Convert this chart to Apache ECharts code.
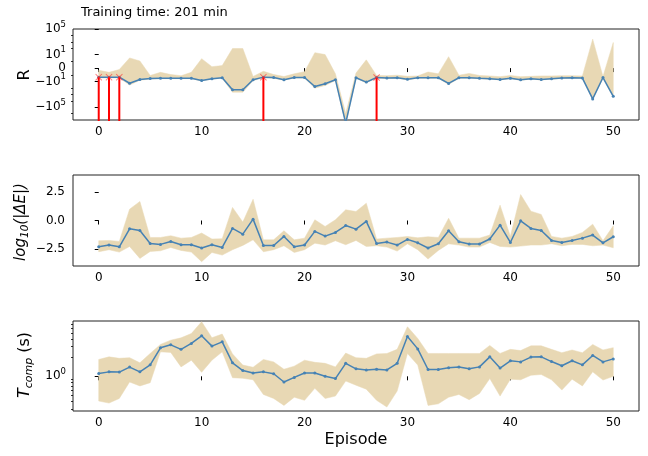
<!DOCTYPE html>
<html>
<head>
<meta charset="utf-8">
<script src="https://cdn.jsdelivr.net/npm/echarts@6/dist/echarts.min.js"></script>
<style>
  html, body { margin: 0; padding: 0; background: #fff; }
  #chart { width: 648px; height: 456px; }
</style>
</head>
<body>
<div id="chart"></div>
<script>
// episodes on x
const episodes = [0, 1, 2, 3, 4, 5, 6, 7, 8, 9, 10, 11, 12, 13, 14, 15, 16, 17, 18, 19, 20,
  21, 22, 23, 24, 25, 26, 27, 28, 29, 30, 31, 32, 33, 34, 35, 36, 37, 38, 39, 40,
  41, 42, 43, 44, 45, 46, 47, 48, 49, 50];

// reward R (symlog panel)
const rewardMean = [-2, -2, -2, -18, -4.7, -3.3, -3, -3, -3, -3, -6.7, -3.5, -2.5, -190, -190, -5, -2, -2.3, -5, -2.3,
  -2.3, -57, -22, -5, -3e7, -2.5, -12, -2.3, -2.8, -2.5, -4.3, -2.5, -2.5, -2.5, -19, -2.5, -2.5, -3, -3.5, -4.5,
  -3, -5, -3.5, -4.5, -3.5, -2.8, -2.5, -2.8, -5000, -2.3, -2000];
const rewardHigh = [-0.3, -0.6, -0.2, 3, 1, -1.1, -0.6, -0.9, -1.2, -0.6, 2.3, 0.2, 0.35, 90, 90, -1.6, -0.45, -0.9, -1.6, -0.8,
  -0.5, 20, 10, -0.8, -1e6, -0.7, 1.5, -1.1, -1.2, -1.0, -1.5, -1.3, -0.55, -0.8, 4.7, -1, -0.75, -1.1, -1.3, -1.7,
  -1.1, -1.7, -1.5, -1.3, -1.3, -1.2, -1.2, -1.3, 2600, -1.6, 780];
const rewardLow = [-2.6, -2.6, -2.6, -35, -6, -4, -3.5, -3.5, -3.5, -3.5, -8, -4, -3, -450, -450, -7, -2.6, -3, -6, -2.8,
  -2.8, -105, -40, -7, -5e7, -3, -16, -2.8, -3.5, -3, -5.5, -3, -3, -3, -28, -3, -3, -3.6, -4.2, -5.5,
  -3.6, -6, -4.2, -5.5, -4.2, -3.4, -3, -3.4, -6500, -2.8, -2600];
const failEpisodes = [0, 1, 2, 16, 27];

// log10(|dE|)
const dEMean = [-2.31, -2.16, -2.31, -0.73, -0.88, -2.02, -2.1, -1.84, -2.13, -2.13, -2.42, -2.13, -2.37, -0.7, -1.2, 0.12, -2.2, -2.2, -1.4, -2.31,
  -2.16, -0.96, -1.37, -1.05, -0.44, -0.76, -0.08, -2.02, -1.9, -2.16, -1.66, -1.96, -2.42, -2.05, -0.9, -1.87, -2.07, -2.07, -1.63, -0.41,
  -1.93, -0.03, -0.7, -0.88, -1.75, -1.93, -1.75, -1.55, -1.28, -1.96, -1.43];
const dEHigh = [-1.78, -1.75, -1.84, 1.0, 1.67, -1.49, -1.49, -1.34, -1.55, -1.49, -1.1, -1.63, -1.6, 1.15, -0.14, 1.87, -1.7, -1.7, -0.9, -1.7,
  -1.55, 0.06, -0.52, 0.06, 0.94, 0.79, 1.52, -1.63, -1.55, -1.49, -1.4, -1.52, -1.43, -1.49, 0.2, -1.55, -1.55, -1.55, -1.28, 1.35,
  -1.4, 2.28, 0.82, 0.53, -1.4, -1.55, -1.4, -1.05, -0.32, -1.78, -0.47];
const dELow = [-2.75, -2.57, -2.78, -2.28, -3.33, -2.72, -2.66, -2.37, -2.63, -2.78, -3.62, -2.81, -3.04, -2.57, -2.19, -1.7, -2.75, -2.57, -2.22, -2.81,
  -2.57, -1.99, -2.16, -1.78, -2.13, -1.75, -2.28, -2.22, -2.34, -2.69, -2.05, -2.57, -3.39, -2.63, -2.05, -2.16, -2.34, -2.34, -1.93, -2.28,
  -2.34, -2.25, -2.16, -2.16, -2.05, -2.22, -2.1, -2.1, -2.22, -2.16, -2.4];

// T_comp in seconds (log panel)
const tMean = [1.11, 1.18, 1.17, 1.41, 1.18, 1.53, 2.88, 3.22, 2.72, 3.39, 4.5, 3.07, 3.6, 1.65, 1.24, 1.13, 1.18, 1.1, 0.81, 0.96,
  1.13, 1.13, 1.0, 0.92, 1.62, 1.32, 1.26, 1.3, 1.27, 1.62, 4.4, 2.77, 1.29, 1.29, 1.37, 1.41, 1.32, 1.42, 2.06, 1.36,
  1.78, 1.71, 2.04, 2.06, 1.73, 1.48, 1.78, 1.53, 2.17, 1.71, 1.91];
const tHigh = [1.87, 2.06, 1.95, 2.0, 1.65, 2.34, 3.27, 3.83, 4.17, 4.9, 7.6, 4.2, 4.8, 2.3, 1.52, 1.4, 1.87, 1.71, 1.3, 1.46,
  1.82, 1.68, 1.62, 1.42, 2.37, 2.0, 1.95, 2.3, 2.33, 2.72, 6.3, 4.08, 2.34, 2.34, 2.34, 2.34, 2.34, 2.34, 3.15, 2.34,
  2.72, 2.6, 3.1, 3.1, 2.72, 2.4, 2.66, 2.4, 3.27, 2.66, 2.9];
const tLow = [0.40, 0.37, 0.44, 0.81, 0.70, 0.79, 2.48, 2.43, 1.42, 1.82, 1.16, 1.82, 2.48, 0.95, 0.93, 0.88, 0.51, 0.44, 0.34, 0.46,
  0.41, 0.64, 0.44, 0.48, 0.84, 0.72, 0.62, 0.41, 0.32, 0.58, 2.34, 1.52, 0.34, 0.36, 0.46, 0.51, 0.42, 0.53, 0.92, 0.48,
  0.9, 0.88, 1.04, 1.07, 0.88, 0.6, 0.9, 0.7, 1.18, 0.87, 1.0];

// ticks
const xTicks = [0, 10, 20, 30, 40, 50];
const rTicks = [1e5, 10, 0, -10, -1e5];
const rTickLabels = ['{b|10}{s|5}', '{b|10}{s|1}', '{b|0}', '{b|\u221210}{s|1}', '{b|\u221210}{s|5}'];
const rMinorTicks = [1e4, 1e3, 1e2, 1, -1, -1e2, -1e3, -1e4, -1e6];
const dETicks = [-2.5, 0, 2.5];
const tTicks = [1];
const tTickLabels = ['{b|10}{s|0}'];
const tMinorTicks = [0.3, 0.4, 0.5, 0.6, 0.7, 0.8, 0.9, 2, 3, 4, 5, 6, 7];

const FONT = 'DejaVu Sans';
const LINE = '#4682b4';
const BAND = '#e8d8b4';

// matplotlib-like symlog, linthresh 1
function symlog(v) {
  const a = Math.abs(v), s = 1 / (1 - 1 / 10);
  return a <= 1 ? v * s : Math.sign(v) * (s + Math.log10(a));
}
const ident = v => v;

const chart = echarts.init(document.getElementById('chart'));

const richTick = {
  b: { fontFamily: FONT, fontSize: 12, color: '#000' },
  s: { fontFamily: FONT, fontSize: 8.5, color: '#000', padding: [0, 0, 9, 0] }
};

function xAxis(gi) {
  return {
    type: 'value', gridIndex: gi, min: -2.5, max: 52.5,
    axisLine: { show: false },
    axisTick: { customValues: xTicks, length: 4, lineStyle: { color: '#000' } },
    axisLabel: { customValues: xTicks, margin: 6, fontFamily: FONT, fontSize: 12, color: '#000' },
    splitLine: { show: false }
  };
}

// min/max band as one polygon (fill_between)
function band(gi, yi, low, high, tf) {
  return {
    type: 'custom', xAxisIndex: gi, yAxisIndex: yi, clip: true, silent: true, z: 1,
    data: episodes.map((e, i) => [e, tf(low[i]), tf(high[i])]),
    renderItem: function (params, api) {
      if (params.dataIndex !== 0) return null;
      const pts = [];
      episodes.forEach((e, i) => pts.push(api.coord([e, tf(high[i])])));
      for (let i = episodes.length - 1; i >= 0; i--) pts.push(api.coord([episodes[i], tf(low[i])]));
      return { type: 'polygon', shape: { points: pts }, style: { fill: BAND, stroke: BAND, lineWidth: 0.5 } };
    }
  };
}

function meanLine(gi, yi, vals, tf) {
  return {
    type: 'line', xAxisIndex: gi, yAxisIndex: yi,
    data: episodes.map((e, i) => [e, tf(vals[i])]),
    symbol: 'circle', symbolSize: 3, showSymbol: true,
    lineStyle: { color: LINE, width: 1.5 }, itemStyle: { color: LINE }, z: 3
  };
}

const failLines = failEpisodes.map(ep => ({
  type: 'line', xAxisIndex: 0, yAxisIndex: 0,
  data: [[ep, symlog(rewardMean[ep])], [ep, symlog(-1e8)]],
  symbol: 'none', lineStyle: { color: '#ff0000', width: 2 }, z: 4
}));
const failMarks = {
  type: 'scatter', xAxisIndex: 0, yAxisIndex: 0,
  data: failEpisodes.map(ep => [ep, symlog(rewardMean[ep])]),
  symbol: 'path://M0,1L1,0L5,4L9,0L10,1L6,5L10,9L9,10L5,6L1,10L0,9L4,5Z',
  symbolSize: 7, itemStyle: { color: 'rgba(255,40,40,0.75)' }, z: 5
};

const gridBase = { left: 73, width: 566, show: true, borderColor: '#222', borderWidth: 1 };

chart.setOption({
  animation: false,
  grid: [
    Object.assign({ top: 29, height: 91 }, gridBase),
    Object.assign({ top: 175, height: 91 }, gridBase),
    Object.assign({ top: 321, height: 90 }, gridBase)
  ],
  xAxis: [xAxis(0), xAxis(1), xAxis(2)],
  yAxis: [
    {
      type: 'value', gridIndex: 0, position: 'left', min: symlog(-1e7), max: symlog(1e5),
      axisLine: { show: false }, splitLine: { show: false },
      axisTick: { customValues: rTicks.map(symlog), length: 4, lineStyle: { color: '#000' } },
      axisLabel: {
        customValues: rTicks.map(symlog), margin: 7, rich: richTick,
        formatter: v => rTickLabels[rTicks.findIndex(t => Math.abs(symlog(t) - v) < 1e-6)] || ''
      }
    },
    {
      type: 'value', gridIndex: 0, position: 'left', min: symlog(-1e7), max: symlog(1e5),
      axisLine: { show: false }, splitLine: { show: false }, axisLabel: { show: false },
      axisTick: { customValues: rMinorTicks.map(symlog), length: 2, lineStyle: { color: '#000', width: 0.8 } }
    },
    {
      type: 'value', gridIndex: 1, position: 'left', min: -4, max: 4,
      axisLine: { show: false }, splitLine: { show: false },
      axisTick: { customValues: dETicks, length: 4, lineStyle: { color: '#000' } },
      axisLabel: {
        customValues: dETicks, margin: 8, fontFamily: FONT, fontSize: 12, color: '#000',
        formatter: v => v.toFixed(1).replace('-', '\u2212')
      }
    },
    {
      type: 'value', gridIndex: 2, position: 'left', min: Math.log10(0.276), max: Math.log10(7.8),
      axisLine: { show: false }, splitLine: { show: false },
      axisTick: { customValues: tTicks.map(Math.log10), length: 4, lineStyle: { color: '#000' } },
      axisLabel: {
        customValues: tTicks.map(Math.log10), margin: 7, rich: richTick,
        formatter: v => tTickLabels[tTicks.findIndex(t => Math.abs(Math.log10(t) - v) < 1e-6)] || ''
      }
    },
    {
      type: 'value', gridIndex: 2, position: 'left', min: Math.log10(0.276), max: Math.log10(7.8),
      axisLine: { show: false }, splitLine: { show: false }, axisLabel: { show: false },
      axisTick: { customValues: tMinorTicks.map(Math.log10), length: 2, lineStyle: { color: '#000', width: 0.8 } }
    }
  ],
  series: [
    band(0, 0, rewardLow, rewardHigh, symlog),
    meanLine(0, 0, rewardMean, symlog),
    ...failLines,
    failMarks,
    band(1, 2, dELow, dEHigh, ident),
    meanLine(1, 2, dEMean, ident),
    band(2, 3, tLow, tHigh, Math.log10),
    meanLine(2, 3, tMean, Math.log10)
  ],
  graphic: [
    {
      type: 'text', left: 81, top: 6,
      style: { text: 'Training time: 201 min', fontFamily: FONT, fontSize: 13, fill: '#000' }
    },
    {
      type: 'text', x: 25, y: 75, rotation: Math.PI / 2,
      style: { text: 'R', fontFamily: FONT, fontSize: 16, fill: '#000', align: 'center', verticalAlign: 'middle' }
    },
    {
      type: 'text', x: 21, y: 222, rotation: Math.PI / 2,
      style: {
        text: '{i|log}{sub|10}{i|(|\u0394E|)}', align: 'center', verticalAlign: 'middle',
        rich: {
          i: { fontFamily: FONT, fontSize: 15, fontStyle: 'italic', fill: '#000' },
          sub: { fontFamily: FONT, fontSize: 10.5, fontStyle: 'italic', fill: '#000', padding: [9, 0, 0, 0] }
        }
      }
    },
    {
      type: 'text', x: 25, y: 365, rotation: Math.PI / 2,
      style: {
        text: '{i|T}{sub|comp}{n| (s)}', align: 'center', verticalAlign: 'middle',
        rich: {
          i: { fontFamily: FONT, fontSize: 16, fontStyle: 'italic', fill: '#000' },
          sub: { fontFamily: FONT, fontSize: 11, fontStyle: 'italic', fill: '#000', padding: [9, 0, 0, 0] },
          n: { fontFamily: FONT, fontSize: 16, fill: '#000' }
        }
      }
    },
    {
      type: 'text', x: 356, y: 440,
      style: { text: 'Episode', fontFamily: FONT, fontSize: 16, fill: '#000', align: 'center', verticalAlign: 'middle' }
    }
  ]
});
</script>
</body>
</html>
